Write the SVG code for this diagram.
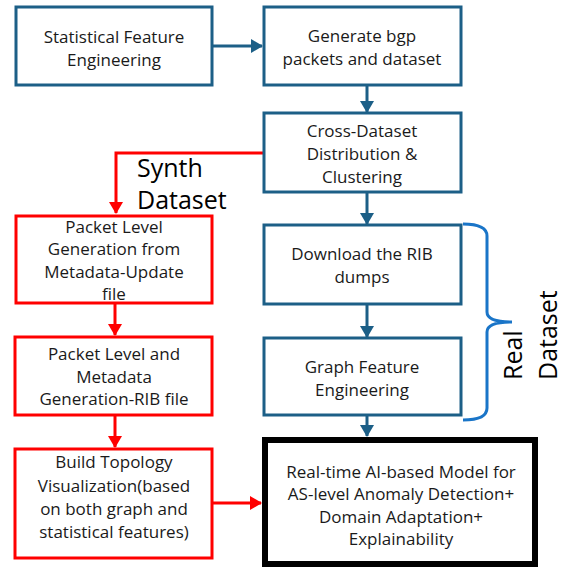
<svg xmlns="http://www.w3.org/2000/svg" width="566" height="568" viewBox="0 0 566 568">
<style>
.bg{fill:#ffffff}
.blue{fill:#ffffff;stroke:#1c5f87;stroke-width:3}
.red{fill:#ffffff;stroke:#ff0000;stroke-width:3}
.black{fill:#ffffff;stroke:#000000;stroke-width:6}
.t{font-family:"Open Sans","Liberation Sans",sans-serif;font-size:17px;fill:#1a1a1a;text-anchor:middle}
.big{font-family:"Open Sans","Liberation Sans",sans-serif;font-size:25px;fill:#000000}
.cb{fill:none;stroke:#1c5f87;stroke-width:3}
.cr{fill:none;stroke:#ff0000;stroke-width:3}
</style>
<defs>
<marker id="ab" markerUnits="userSpaceOnUse" markerWidth="12" markerHeight="14" refX="11" refY="7" orient="auto">
<path d="M0,0 L12,7 L0,14 Z" fill="#1c5f87"/>
</marker>
<marker id="ar" markerUnits="userSpaceOnUse" markerWidth="12" markerHeight="14" refX="11" refY="7" orient="auto">
<path d="M0,0 L12,7 L0,14 Z" fill="#ff0000"/>
</marker>
</defs>
<rect class="bg" x="0" y="0" width="566" height="568"/>

<g id="connectors">
<path class="cb" d="M212,46 L262,46" marker-end="url(#ab)"/>
<path class="cb" d="M367,85 L367,112" marker-end="url(#ab)"/>
<path class="cb" d="M367,192 L367,224" marker-end="url(#ab)"/>
<path class="cb" d="M367,304 L367,337" marker-end="url(#ab)"/>
<path class="cb" d="M367,416 L367,436" marker-end="url(#ab)"/>
<path class="cr" d="M264,153 L116,153 L116,213" marker-end="url(#ar)"/>
<path class="cr" d="M115,303 L115,335" marker-end="url(#ar)"/>
<path class="cr" d="M115,415 L115,447" marker-end="url(#ar)"/>
<path class="cr" d="M212,503 L261,503" marker-end="url(#ar)"/>
</g>

<g id="n-stat">
<rect class="blue" x="16" y="7" width="196" height="78"/>
<text class="t" x="114" y="43">Statistical Feature</text>
<text class="t" x="114" y="66">Engineering</text>
</g>
<g id="n-gen">
<rect class="blue" x="264" y="7" width="197" height="78"/>
<text class="t" x="362" y="42">Generate bgp</text>
<text class="t" x="362" y="65">packets and dataset</text>
</g>
<g id="n-cross">
<rect class="blue" x="264" y="113" width="197" height="79"/>
<text class="t" x="362" y="137">Cross-Dataset</text>
<text class="t" x="362" y="160">Distribution &amp;</text>
<text class="t" x="362" y="183">Clustering</text>
</g>
<g id="n-rib">
<rect class="blue" x="264" y="225" width="197" height="79"/>
<text class="t" x="362" y="260">Download the RIB</text>
<text class="t" x="362" y="283">dumps</text>
</g>
<g id="n-graph">
<rect class="blue" x="264" y="338" width="197" height="77"/>
<text class="t" x="362" y="373">Graph Feature</text>
<text class="t" x="362" y="396">Engineering</text>
</g>
<g id="n-model">
<rect class="black" x="265" y="440" width="270" height="124"/>
<text class="t" x="401" y="478">Real-time AI-based Model for</text>
<text class="t" x="401" y="500">AS-level Anomaly Detection+</text>
<text class="t" x="401" y="523">Domain Adaptation+</text>
<text class="t" x="401" y="545">Explainability</text>
</g>
<g id="n-pkt1">
<rect class="red" x="16" y="216" width="196" height="87"/>
<text class="t" x="114" y="233">Packet Level</text>
<text class="t" x="114" y="255">Generation from</text>
<text class="t" x="114" y="278">Metadata-Update</text>
<text class="t" x="114" y="300">file</text>
</g>
<g id="n-pkt2">
<rect class="red" x="15" y="337" width="197" height="78"/>
<text class="t" x="114" y="360">Packet Level and</text>
<text class="t" x="114" y="383">Metadata</text>
<text class="t" x="114" y="405">Generation-RIB file</text>
</g>
<g id="n-topo">
<rect class="red" x="15" y="449" width="197" height="109"/>
<text class="t" x="114" y="468">Build Topology</text>
<text class="t" x="114" y="492">Visualization(based</text>
<text class="t" x="114" y="515">on both graph and</text>
<text class="t" x="114" y="538">statistical features)</text>
</g>

<g id="synth-label">
<text class="big" x="137" y="177">Synth</text>
<text class="big" x="137" y="209">Dataset</text>
</g>

<g id="real-label">
<path d="M463,224 Q487,224 487,236 L487,312 Q487,322 512,322 Q487,322 487,332 L487,408 Q487,420 463,420" fill="none" stroke="#1a75c8" stroke-width="3"/>
<text class="big" transform="translate(522,380) rotate(-90)">Real</text>
<text class="big" transform="translate(557,380) rotate(-90)">Dataset</text>
</g>
</svg>
